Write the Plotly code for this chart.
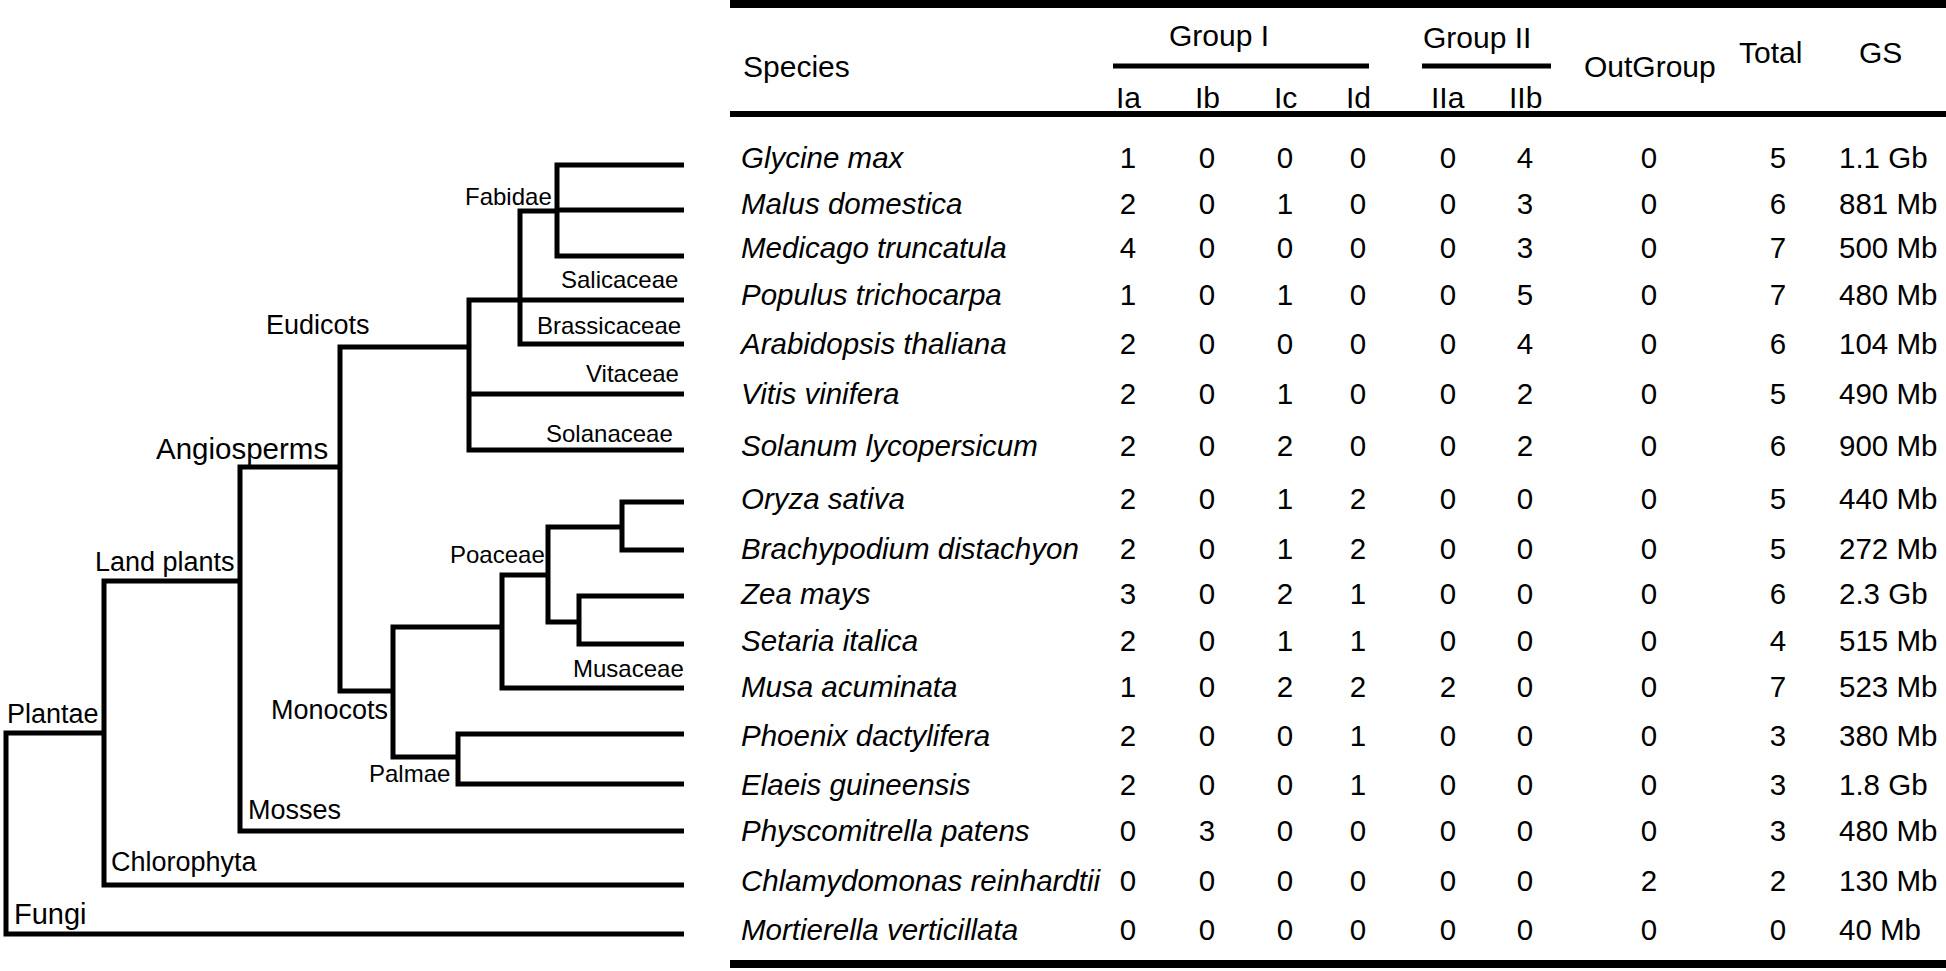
import plotly.graph_objects as go

# ---------------- data ----------------
species = ["Glycine max", "Malus domestica", "Medicago truncatula", "Populus trichocarpa",
           "Arabidopsis thaliana", "Vitis vinifera", "Solanum lycopersicum", "Oryza sativa",
           "Brachypodium distachyon", "Zea mays", "Setaria italica", "Musa acuminata",
           "Phoenix dactylifera", "Elaeis guineensis", "Physcomitrella patens",
           "Chlamydomonas reinhardtii", "Mortierella verticillata"]
Ia = [1, 2, 4, 1, 2, 2, 2, 2, 2, 3, 2, 1, 2, 2, 0, 0, 0]
Ib = [0, 0, 0, 0, 0, 0, 0, 0, 0, 0, 0, 0, 0, 0, 3, 0, 0]
Ic = [0, 1, 0, 1, 0, 1, 2, 1, 1, 2, 1, 2, 0, 0, 0, 0, 0]
Id = [0, 0, 0, 0, 0, 0, 0, 2, 2, 1, 1, 2, 1, 1, 0, 0, 0]
IIa = [0, 0, 0, 0, 0, 0, 0, 0, 0, 0, 0, 2, 0, 0, 0, 0, 0]
IIb = [4, 3, 3, 5, 4, 2, 2, 0, 0, 0, 0, 0, 0, 0, 0, 0, 0]
OutGroup = [0, 0, 0, 0, 0, 0, 0, 0, 0, 0, 0, 0, 0, 0, 0, 2, 0]
Total = [5, 6, 7, 7, 6, 5, 6, 5, 5, 6, 4, 7, 3, 3, 3, 2, 0]
GS = ["1.1 Gb", "881 Mb", "500 Mb", "480 Mb", "104 Mb", "490 Mb", "900 Mb", "440 Mb",
      "272 Mb", "2.3 Gb", "515 Mb", "523 Mb", "380 Mb", "1.8 Gb", "480 Mb", "130 Mb", "40 Mb"]
sub_headers = ["Ia", "Ib", "Ic", "Id", "IIa", "IIb"]

# ---------------- layout (pixel positions) ----------------
W, H = 1946, 971
row_y = [161, 207, 251, 298, 347, 397, 449, 502, 552, 597, 644, 690, 739, 788, 834, 884, 933]
leaf_y = [165, 210, 256, 300, 344, 394, 450, 502, 550, 596, 644, 688, 734, 784, 831, 885, 934]
LEAF_X = 684

# tree topology: (node_x, node_y, children) ; ints are leaf indices
tree = (6, None, [
    (104, 733, [
        (240, 581, [
            (340, 467, [
                (469, 347, [
                    (520, 300, [
                        (557, 211, [0, 1, 2]),
                        3, 4]),
                    5, 6]),
                (393, 691, [
                    (502, 627, [
                        (548, 575, [
                            (622, 527, [7, 8]),
                            (579, 622, [9, 10])]),
                        11]),
                    (458, 757, [12, 13])])]),
            14]),
        15]),
    16])

xs, ys = [], []


def child_pos(c):
    if isinstance(c, int):
        return LEAF_X, leaf_y[c]
    return c[0], c[1]


def walk(node):
    nx, ny, kids = node
    pos = [child_pos(k) for k in kids]
    top = min(pos, key=lambda p: p[1])
    bot = max(pos, key=lambda p: p[1])
    xs.extend([top[0], nx, nx, bot[0], None])
    ys.extend([top[1], top[1], bot[1], bot[1], None])
    for p in pos:
        if p is not top and p is not bot:
            xs.extend([nx, p[0], None])
            ys.extend([p[1], p[1], None])
    for k in kids:
        if not isinstance(k, int):
            walk(k)


walk(tree)

FONT = "Liberation Sans, Arial, Helvetica, sans-serif"
fig = go.Figure()
fig.add_trace(go.Scatter(x=xs, y=ys, mode="lines",
                         line=dict(color="black", width=5),
                         hoverinfo="skip", showlegend=False))

# clade labels: (text, center_x, center_y, size)
clade_labels = [
    ("Fabidae", 508, 196, 24), ("Salicaceae", 619, 279, 24), ("Brassicaceae", 609, 325, 24),
    ("Vitaceae", 632, 373, 24), ("Solanaceae", 609, 433, 24), ("Eudicots", 318, 325, 27),
    ("Angiosperms", 242, 448, 29.5), ("Land plants", 165, 562, 27), ("Poaceae", 497, 554, 24),
    ("Musaceae", 628, 668, 24), ("Monocots", 329, 710, 27), ("Plantae", 53, 714, 27),
    ("Palmae", 409, 773, 24), ("Mosses", 294, 810, 27), ("Chlorophyta", 184, 862, 27),
    ("Fungi", 50, 914, 29),
]
for t, x, y, s in clade_labels:
    fig.add_annotation(x=x, y=y, text=t, showarrow=False, xanchor="center", yanchor="middle",
                       font=dict(family=FONT, size=s, color="black"))

# table body
TS = 29.5
fig.add_trace(go.Scatter(x=[741] * len(species), y=row_y, mode="text",
                         text=["<i>%s</i>" % s for s in species], textposition="middle right",
                         textfont=dict(family=FONT, size=TS, color="black"),
                         hoverinfo="skip", showlegend=False))
col_x = [1128, 1207, 1285, 1358, 1448, 1525, 1649, 1778]
cols = [Ia, Ib, Ic, Id, IIa, IIb, OutGroup, Total]
for cx, vals in zip(col_x, cols):
    fig.add_trace(go.Scatter(x=[cx] * len(vals), y=row_y, mode="text",
                             text=[str(v) for v in vals], textposition="middle center",
                             textfont=dict(family=FONT, size=TS, color="black"),
                             hoverinfo="skip", showlegend=False))
fig.add_trace(go.Scatter(x=[1839] * len(GS), y=row_y, mode="text", text=GS,
                         textposition="middle right",
                         textfont=dict(family=FONT, size=TS, color="black"),
                         hoverinfo="skip", showlegend=False))

# headers
HS = 30
headers = [("Species", 741, 66, "left"), ("Group I", 1219, 35, "center"),
           ("Group II", 1477, 37, "center"), ("OutGroup", 1650, 66, "center"),
           ("Total", 1770, 52, "center"), ("GS", 1880, 52, "center")]
for t, x, y, a in headers:
    fig.add_annotation(x=x, y=y, text=t, showarrow=False, xanchor=a, yanchor="middle",
                       font=dict(family=FONT, size=HS, color="black"))
for t, x in zip(sub_headers, col_x[:6]):
    fig.add_annotation(x=x, y=97, text=t, showarrow=False, xanchor="center", yanchor="middle",
                       font=dict(family=FONT, size=HS, color="black"))

# rules
rules = [(730, W, 4, 8), (730, W, 114, 6), (730, W, 964, 8), (1113, 1369, 66, 5), (1422, 1551, 66, 5)]
for x0, x1, y, w in rules:
    fig.add_shape(type="line", x0=x0, x1=x1, y0=y, y1=y, line=dict(color="black", width=w))

fig.update_layout(width=W, height=H, margin=dict(l=0, r=0, t=0, b=0),
                  paper_bgcolor="white", plot_bgcolor="white",
                  xaxis=dict(range=[0, W], visible=False, fixedrange=True),
                  yaxis=dict(range=[H, 0], visible=False, fixedrange=True))
fig.write_html("out.html", config={"displayModeBar": False},
               post_script="document.body.style.margin='0px';document.body.style.overflow='hidden';")
